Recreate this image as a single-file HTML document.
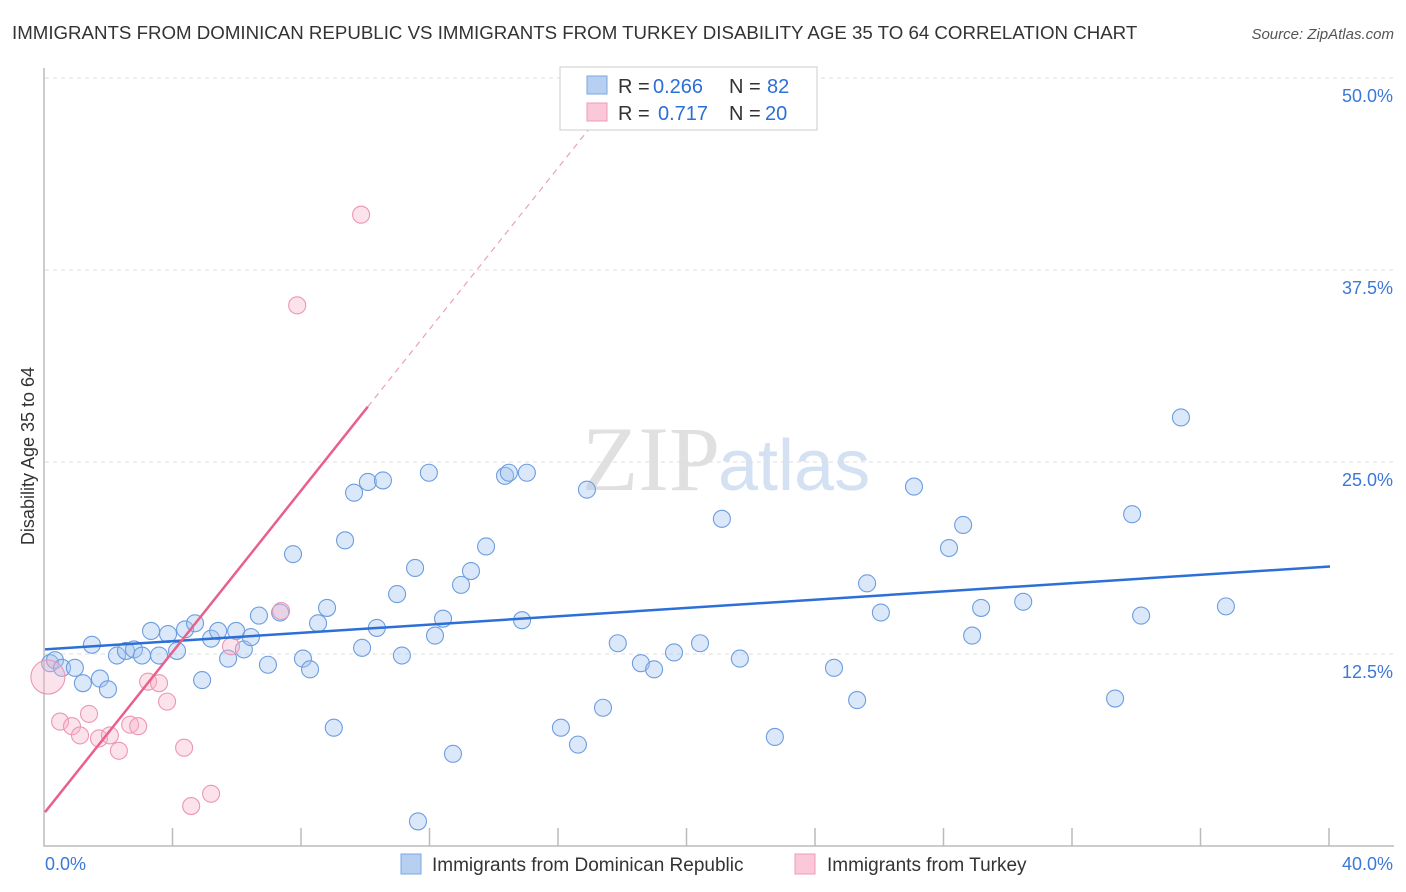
<!DOCTYPE html>
<html><head><meta charset="utf-8"><style>
body{margin:0;background:#fff;font-family:"Liberation Sans",sans-serif}
svg{display:block}
</style></head><body>
<svg id="chart" width="1406" height="892">
<text x="12" y="39" font-size="18.7" fill="#333">IMMIGRANTS FROM DOMINICAN REPUBLIC VS IMMIGRANTS FROM TURKEY DISABILITY AGE 35 TO 64 CORRELATION CHART</text>
<text x="1394" y="39" font-size="15" fill="#555" font-style="italic" text-anchor="end">Source: ZipAtlas.com</text>
<text x="720" y="490" font-size="92" fill="#e0e0e0" text-anchor="end" font-family="Liberation Serif,serif">ZIP</text>
<text x="718" y="490" font-size="72" fill="#d3e1f3">atlas</text>
<text transform="translate(34,456) rotate(-90)" font-size="18" fill="#333" text-anchor="middle">Disability Age 35 to 64</text>
<g id="grid"></g><g id="axes"></g><g id="pts"></g><g id="lines"></g>
<g>
<rect x="560" y="67" width="257" height="63" fill="#fff" stroke="#ccc"/>
<rect x="587" y="76" width="20" height="18" fill="#b7d0f2" stroke="#7aa6e3"/>
<rect x="587" y="103" width="20" height="18" fill="#fac8d8" stroke="#ef9bb7"/>
<text x="618" y="93" font-size="20" fill="#333">R =</text>
<text x="653" y="93" font-size="20" fill="#2c6fd6">0.266</text>
<text x="729" y="93" font-size="20" fill="#333">N =</text>
<text x="767" y="93" font-size="20" fill="#2c6fd6">82</text>
<text x="618" y="120" font-size="20" fill="#333">R =</text>
<text x="658" y="120" font-size="20" fill="#2c6fd6">0.717</text>
<text x="729" y="120" font-size="20" fill="#333">N =</text>
<text x="765" y="120" font-size="20" fill="#2c6fd6">20</text>
</g>
<g>
<rect x="401" y="854" width="20" height="20" fill="#b7d0f2" stroke="#7aa6e3"/>
<text x="432" y="871" font-size="19" fill="#333">Immigrants from Dominican Republic</text>
<rect x="795" y="854" width="20" height="20" fill="#fac8d8" stroke="#ef9bb7"/>
<text x="827" y="871" font-size="19" fill="#333">Immigrants from Turkey</text>
</g>
</svg>
<script>
const yTicks=[12.5,25,37.5,50];
const yTickLabels=["12.5%","25.0%","37.5%","50.0%"];
const xTickLabels=["0.0%","40.0%"];
const blueX=[0.16,0.31,0.53,0.93,1.18,1.46,1.71,1.96,2.24,2.52,2.77,3.02,3.30,3.55,3.83,4.11,4.36,4.67,4.89,5.17,5.39,5.70,5.95,6.19,6.41,6.66,6.94,7.32,7.72,8.03,8.25,8.50,8.78,8.99,9.34,9.62,9.87,10.05,10.33,10.52,10.96,11.11,11.52,11.61,11.95,12.14,12.39,12.70,12.95,13.26,13.73,14.32,14.44,14.85,15.00,16.06,16.59,16.87,17.37,17.83,18.55,18.96,19.58,20.39,21.07,21.63,22.72,24.56,25.28,25.59,26.02,27.05,28.14,28.58,28.86,29.14,30.45,33.31,33.84,34.12,35.36,36.76];
const blueY=[11.9,12.1,11.6,11.6,10.6,13.1,10.9,10.2,12.4,12.7,12.8,12.4,14.0,12.4,13.8,12.7,14.1,14.5,10.8,13.5,14.0,12.2,14.0,12.8,13.6,15.0,11.8,15.2,19.0,12.2,11.5,14.5,15.5,7.7,19.9,23.0,12.9,23.7,14.2,23.8,16.4,12.4,18.1,1.6,24.3,13.7,14.8,6.0,17.0,17.9,19.5,24.1,24.3,14.7,24.3,7.7,6.6,23.2,9.0,13.2,11.9,11.5,12.6,13.2,21.3,12.2,7.1,11.6,9.5,17.1,15.2,23.4,19.4,20.9,13.7,15.5,15.9,9.6,21.6,15.0,27.9,15.6];
const pinkX=[0.09,0.47,0.84,1.09,1.37,1.68,2.02,2.30,2.65,2.90,3.21,3.55,3.80,4.33,4.55,5.17,5.79,7.35,7.85,9.84];
const pinkY=[11.0,8.1,7.8,7.2,8.6,7.0,7.2,6.2,7.9,7.8,10.7,10.6,9.4,6.4,2.6,3.4,13.0,15.3,35.2,41.1];
const blueLine={x0:0,y0:12.8,x1:40,y1:18.2};
const pinkLine={x0:0,y0:2.2,x1:10.05,y1:28.6,xd:17.0};
const X=v=>45+v/40*1285, Y=v=>846-v/50*768;
const NS="http://www.w3.org/2000/svg";
function mk(tag,attrs,parent){const e=document.createElementNS(NS,tag);for(const k in attrs)e.setAttribute(k,attrs[k]);parent.appendChild(e);return e;}
const grid=document.getElementById('grid'),axes=document.getElementById('axes'),pts=document.getElementById('pts'),lines=document.getElementById('lines');
yTicks.forEach((t,i)=>{
 const g=mk('line',{x1:45,x2:1394,y1:Y(t),y2:Y(t),stroke:'#ddd','stroke-dasharray':'4,4'},grid);
 
 
 const l=mk('text',{x:1393,y:Y(t)+24,'font-size':18,fill:'#3b78d8','text-anchor':'end'},axes);
 l.textContent=yTickLabels[i];
 
 
});
const ax=mk('path',{d:'M44 68 V846 H1394',fill:'none',stroke:'#bbb','stroke-width':1.5},axes);


for(let i=1;i<=10;i++){const t=mk('line',{x1:X(i*4)-1,x2:X(i*4)-1,y1:828,y2:846,stroke:'#bbb','stroke-width':1.5},axes);
 
 }
[[0,'start',45],[1,'end',1393]].forEach(([i,a,x])=>{const l=mk('text',{x:x,y:870,'font-size':18,fill:'#3b78d8','text-anchor':a},axes);l.textContent=xTickLabels[i];
 
 });
blueX.forEach((v,i)=>{const c=mk('circle',{cx:X(v),cy:Y(blueY[i]),r:8.5,fill:'rgba(160,195,240,0.38)',stroke:'#6d9de0','stroke-width':1.1},pts);
 
 });
pinkX.forEach((v,i)=>{const c=mk('circle',{cx:X(v),cy:Y(pinkY[i]),r:i==0?17:8.5,fill:'rgba(248,180,200,0.38)',stroke:'#ec97b3','stroke-width':1.1},pts);
 
 });
const bl=mk('line',{x1:X(blueLine.x0),y1:Y(blueLine.y0),x2:X(blueLine.x1),y2:Y(blueLine.y1),stroke:'#2c6fd6','stroke-width':2.5},lines);


const pl=mk('line',{x1:X(pinkLine.x0),y1:Y(pinkLine.y0),x2:X(pinkLine.x1),y2:Y(pinkLine.y1),stroke:'#e8608b','stroke-width':2.5},lines);


const slope=(pinkLine.y1-pinkLine.y0)/(pinkLine.x1-pinkLine.x0);
const pd=mk('line',{x1:X(pinkLine.x1),y1:Y(pinkLine.y1),x2:X(pinkLine.xd),y2:Y(pinkLine.y0+slope*pinkLine.xd),stroke:'#eba0b8','stroke-width':1.2,'stroke-dasharray':'6,5'},lines);


</script>
</body></html>
